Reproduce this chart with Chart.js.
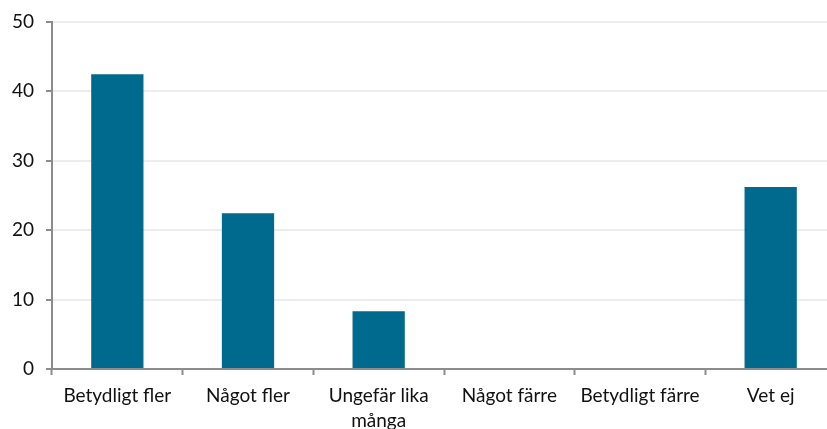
<!DOCTYPE html>
<html lang="sv">
<head>
  <meta charset="UTF-8" />
  <title>Betydligt fler / färre</title>
  <style>
    * { margin: 0; padding: 0; box-sizing: border-box; }
    html, body { width: 827px; height: 429px; overflow: hidden; background: #fff; }
    /* the plot runs a little past the right edge, like the reference */
    .chart-box { width: 836px; height: 429px; position: relative; }
  </style>
</head>
<body>
  <div class="chart-box">
    <canvas id="barChart"></canvas>
  </div>
  <script src="https://cdn.jsdelivr.net/npm/chart.js"></script>
  <script>
    const categories = [
      "Betydligt fler",
      "Något fler",
      ["Ungefär lika", "många"],
      "Något färre",
      "Betydligt färre",
      "Vet ej"
    ];
    const values = [42.4, 22.4, 8.3, 0, 0, 26.2];
    const yTicks = [0, 10, 20, 30, 40, 50];

    const barColor = "#006a8e";
    const axisColor = "#8c8c8c";
    const gridColor = "#ededed";
    const textColor = "#111111";
    const fontFamily = "Lato, 'Open Sans', sans-serif";

    new Chart(document.getElementById("barChart"), {
      type: "bar",
      data: {
        labels: categories,
        datasets: [{
          data: values,
          backgroundColor: barColor,
          borderWidth: 0,
          categoryPercentage: 1,
          barPercentage: 0.4
        }]
      },
      options: {
        responsive: true,
        maintainAspectRatio: false,
        animation: false,
        layout: { padding: { top: 20, right: 0, bottom: 0, left: 0 } },
        scales: {
          x: {
            afterFit: s => { s.height = 60; },
            border: { color: axisColor, width: 2 },
            grid: {
              offset: true,
              drawOnChartArea: false,
              drawTicks: true,
              tickLength: 6,
              tickColor: axisColor,
              tickWidth: 2
            },
            ticks: {
              color: textColor,
              font: { family: fontFamily, size: 19, lineHeight: 1.3 },
              padding: 9, maxRotation: 0, autoSkip: false
            }
          },
          y: {
            min: 0,
            max: 50,
            afterFit: s => { s.width = 52; },
            afterBuildTicks: s => { s.ticks = yTicks.map(v => ({ value: v })); },
            border: { color: axisColor, width: 2 },
            grid: {
              color: gridColor,
              lineWidth: 2,
              tickLength: 6,
              tickColor: axisColor,
              tickWidth: 2
            },
            ticks: {
              color: textColor,
              font: { family: fontFamily, size: 19, lineHeight: 1.0 },
              padding: 12
            }
          }
        },
        plugins: {
          legend: { display: false },
          tooltip: { enabled: false }
        },
        events: []
      }
    });
  </script>
</body>
</html>
